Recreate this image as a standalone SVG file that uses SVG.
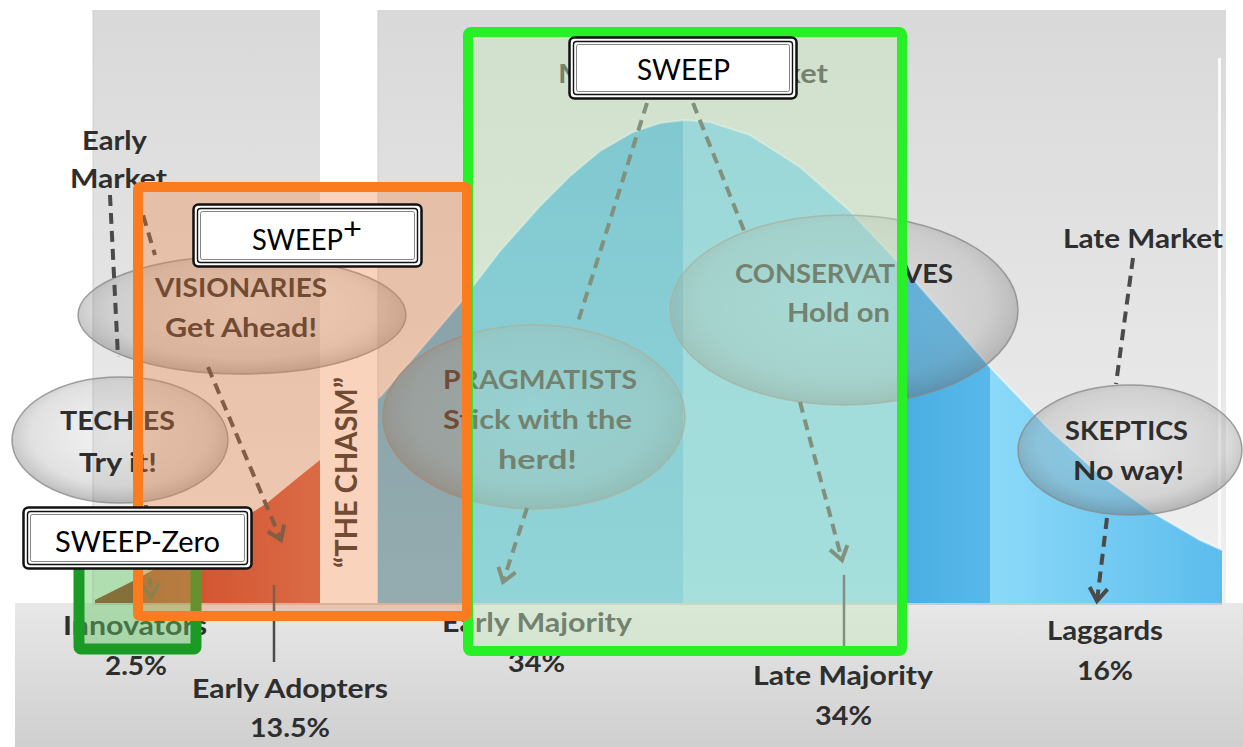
<svg xmlns="http://www.w3.org/2000/svg" width="1243" height="747" viewBox="0 0 1243 747">
<defs>
  <linearGradient id="panelG" x1="0" y1="0" x2="0" y2="1">
    <stop offset="0" stop-color="#d9d9d9"/>
    <stop offset="0.5" stop-color="#e4e4e4"/>
    <stop offset="1" stop-color="#f1f1f1"/>
  </linearGradient>
  <linearGradient id="floorG" x1="0" y1="0" x2="0" y2="1">
    <stop offset="0" stop-color="#e8e8e8"/>
    <stop offset="1" stop-color="#cfcfcf"/>
  </linearGradient>
  <linearGradient id="adoptG" x1="0" y1="0" x2="1" y2="0">
    <stop offset="0" stop-color="#bf2e1a"/>
    <stop offset="1" stop-color="#d0604a"/>
  </linearGradient>
  <linearGradient id="emG" x1="0" y1="0" x2="0" y2="1">
    <stop offset="0" stop-color="#45acdf"/>
    <stop offset="1" stop-color="#66c4ec"/>
  </linearGradient>
  <linearGradient id="lmG" x1="0" y1="0" x2="0" y2="1">
    <stop offset="0" stop-color="#78c8ee"/>
    <stop offset="1" stop-color="#8ad8f5"/>
  </linearGradient>
  <linearGradient id="lmOutG" x1="0" y1="0" x2="1" y2="0">
    <stop offset="0" stop-color="#4aaee2"/>
    <stop offset="1" stop-color="#58b8ea"/>
  </linearGradient>
  <linearGradient id="lagG" x1="0" y1="0" x2="1" y2="0">
    <stop offset="0" stop-color="#8cdaf9"/>
    <stop offset="1" stop-color="#5cbcec"/>
  </linearGradient>
  <radialGradient id="ellG" cx="0.5" cy="0.45" r="0.55">
    <stop offset="0" stop-color="#c8c8c8" stop-opacity="0.2"/>
    <stop offset="0.75" stop-color="#9a9a9a" stop-opacity="0.3"/>
    <stop offset="1" stop-color="#6a6a6a" stop-opacity="0.45"/>
  </radialGradient>
  <clipPath id="bell">
    <path d="M95,603 L95,600 L115,590 L135,580 L160,566 L200,549 L250,514 L267,503 L300,476 L320,460 L350,430 L380,397 L420,350 L460,303 L500,251 L540,206 L570,176 L600,151 L633,132 L660,123 L685,120 L710,122 L750,135 L800,167 L850,211 L900,264 L950,321 L990,367 L1050,430 L1100,475 L1150,511 L1200,540 L1222,550 L1222,603 Z"/>
  </clipPath>
  <marker id="chev" viewBox="-16 -12 20 24" markerWidth="20" markerHeight="24" refX="0" refY="0" orient="auto" markerUnits="userSpaceOnUse">
    <path d="M-13,-9 L0,0 L-13,9" fill="none" stroke="#4a4a4a" stroke-width="4"/>
  </marker>
</defs>
<style>
  .lbl{font-family:Lato,"Open Sans","Liberation Sans",sans-serif;font-weight:700;fill:#2e2e2e;font-size:26px}
  .ell{fill:url(#ellG);stroke:#8a8a8a;stroke-opacity:0.8;stroke-width:1.5}
  .dash{fill:none;stroke:#4a4a4a;stroke-width:4;stroke-dasharray:11 7}
  .solid{fill:none;stroke:#4a4a4a;stroke-width:2.5}
  .tag{font-family:Lato,"Open Sans","Liberation Sans",sans-serif;font-weight:400;fill:#000;font-size:28px}
  .tagbox{fill:#fff;stroke:#111;stroke-width:2.5}
  .tagin{fill:none;stroke:#111;stroke-width:1.4}
  .tagin2{fill:none;stroke:#666;stroke-width:0.8}
</style>

<g id="background">
  <rect x="0" y="0" width="1243" height="747" fill="#ffffff"/>
  <rect x="93" y="10" width="227" height="593" fill="url(#panelG)"/>
  <rect x="378" y="10" width="848" height="593" fill="url(#panelG)"/>
  <rect x="1218" y="58" width="3" height="545" fill="#fafafa"/>
  <line x1="93" y1="10" x2="93" y2="603" stroke="#cfcfcf" stroke-width="1"/>
  <line x1="378" y1="10" x2="378" y2="603" stroke="#cfcfcf" stroke-width="1"/>
  <rect x="15" y="603" width="1228" height="144" fill="url(#floorG)"/>
</g>

<g id="chart" clip-path="url(#bell)">
  <rect x="95" y="100" width="40" height="503" fill="#a0281a"/>
  <rect x="135" y="100" width="185" height="503" fill="url(#adoptG)"/>
  <rect x="378" y="100" width="305" height="503" fill="url(#emG)"/>
  <rect x="683" y="100" width="220" height="503" fill="url(#lmG)"/>
  <rect x="903" y="100" width="87" height="503" fill="url(#lmOutG)"/>
  <rect x="990" y="100" width="232" height="503" fill="url(#lagG)"/>
</g>
<g id="curve-edge" fill="none" stroke="#ffffff" stroke-opacity="0.5" stroke-width="2">
  <polyline points="380,397 420,350 460,303 500,251 540,206 570,176 600,151 633,132 660,123 685,120 710,122 750,135 800,167 850,211 900,264 950,321 990,367 1050,430 1100,475 1150,511 1200,540 1222,550"/>
</g>
<line x1="93" y1="604" x2="1222" y2="604" stroke="#a8a8a8" stroke-opacity="0.6" stroke-width="1.5"/>

<g id="node-early-market">
  <text class="lbl" x="82" y="150" font-size="25" textLength="65" lengthAdjust="spacingAndGlyphs">Early</text>
  <text class="lbl" x="70" y="188" font-size="25" textLength="97" lengthAdjust="spacingAndGlyphs">Market</text>
</g>
<g id="node-mainstream-market">
  <text class="lbl" x="558" y="83" textLength="270" lengthAdjust="spacingAndGlyphs">Mainstream Market</text>
</g>
<g id="node-late-market">
  <text class="lbl" x="1063" y="248" font-size="25" textLength="160" lengthAdjust="spacingAndGlyphs">Late Market</text>
</g>
<g id="node-visionaries">
  <ellipse class="ell" cx="242" cy="315" rx="164" ry="59"/>
  <text class="lbl" x="155" y="297" textLength="172" lengthAdjust="spacingAndGlyphs">VISIONARIES</text>
  <text class="lbl" x="165" y="337" textLength="152" lengthAdjust="spacingAndGlyphs">Get Ahead!</text>
</g>
<g id="node-techies">
  <ellipse class="ell" cx="120" cy="440" rx="108" ry="63"/>
  <text class="lbl" x="60" y="430" textLength="115" lengthAdjust="spacingAndGlyphs">TECHIES</text>
  <text class="lbl" x="79" y="472" textLength="78" lengthAdjust="spacingAndGlyphs">Try it!</text>
</g>
<g id="node-pragmatists">
  <ellipse class="ell" cx="534" cy="417" rx="151" ry="92"/>
  <text class="lbl" x="443" y="389" textLength="194" lengthAdjust="spacingAndGlyphs">PRAGMATISTS</text>
  <text class="lbl" x="443" y="429" textLength="189" lengthAdjust="spacingAndGlyphs">Stick with the</text>
  <text class="lbl" x="498" y="469" textLength="79" lengthAdjust="spacingAndGlyphs">herd!</text>
</g>
<g id="node-conservatives">
  <ellipse class="ell" cx="844" cy="310" rx="174" ry="95"/>
  <text class="lbl" x="735" y="283" textLength="218" lengthAdjust="spacingAndGlyphs">CONSERVATIVES</text>
  <text class="lbl" x="787" y="322" textLength="103" lengthAdjust="spacingAndGlyphs">Hold on</text>
</g>
<g id="node-skeptics">
  <ellipse class="ell" cx="1130" cy="450" rx="112" ry="65"/>
  <text class="lbl" x="1065" y="440" font-size="25" textLength="123" lengthAdjust="spacingAndGlyphs">SKEPTICS</text>
  <text class="lbl" x="1073" y="480" font-size="25" textLength="111" lengthAdjust="spacingAndGlyphs">No way!</text>
</g>
<g id="node-chasm">
  <text class="lbl" font-size="27" transform="translate(357,568) scale(1.15,1) rotate(-90)" x="0" y="0" textLength="191" lengthAdjust="spacingAndGlyphs">“THE CHASM”</text>
</g>
<g id="node-innovators">
  <text class="lbl" x="63" y="635" font-size="25" textLength="144" lengthAdjust="spacingAndGlyphs">Innovators</text>
  <text class="lbl" x="105" y="675" font-size="25" textLength="62" lengthAdjust="spacingAndGlyphs">2.5%</text>
</g>
<g id="node-early-adopters">
  <text class="lbl" x="192" y="698" font-size="24" textLength="196" lengthAdjust="spacingAndGlyphs">Early Adopters</text>
  <text class="lbl" x="250" y="737" font-size="24" textLength="80" lengthAdjust="spacingAndGlyphs">13.5%</text>
</g>
<g id="node-early-majority">
  <text class="lbl" x="442" y="632" font-size="27" textLength="190" lengthAdjust="spacingAndGlyphs">Early Majority</text>
  <text class="lbl" x="508" y="672" font-size="25" textLength="57" lengthAdjust="spacingAndGlyphs">34%</text>
</g>
<g id="node-late-majority">
  <text class="lbl" x="753" y="685" font-size="25" textLength="180" lengthAdjust="spacingAndGlyphs">Late Majority</text>
  <text class="lbl" x="815" y="725" font-size="25" textLength="57" lengthAdjust="spacingAndGlyphs">34%</text>
</g>
<g id="node-laggards">
  <text class="lbl" x="1047" y="640" font-size="25" textLength="116" lengthAdjust="spacingAndGlyphs">Laggards</text>
  <text class="lbl" x="1077" y="680" font-size="25" textLength="56" lengthAdjust="spacingAndGlyphs">16%</text>
</g>

<g id="connectors">
  <line class="dash" x1="110" y1="195" x2="118" y2="357"/>
  <line class="dash" x1="138" y1="198" x2="155" y2="255"/>
  <line class="dash" x1="208" y1="367" x2="281" y2="540" marker-end="url(#chev)"/>
  <line class="dash" x1="146" y1="505" x2="151" y2="597" marker-end="url(#chev)"/>
  <line class="dash" x1="647" y1="103" x2="577" y2="325"/>
  <line class="dash" x1="693" y1="103" x2="745" y2="233"/>
  <line class="dash" x1="527" y1="508" x2="503" y2="582" marker-end="url(#chev)"/>
  <line class="dash" x1="800" y1="402" x2="842" y2="560" marker-end="url(#chev)"/>
  <line class="dash" x1="1133" y1="258" x2="1116" y2="384"/>
  <line class="dash" x1="1107" y1="518" x2="1097" y2="601" marker-end="url(#chev)"/>
  <line class="solid" x1="274" y1="585" x2="274" y2="662"/>
  <line class="solid" x1="844" y1="575" x2="844" y2="650"/>
</g>

<g id="sweep-frame">
  <rect x="468" y="32" width="434" height="619" rx="3" fill="rgb(200,232,190)" fill-opacity="0.45" stroke="#27f027" stroke-width="10"/>
</g>
<g id="sweep-zero-frame">
  <rect x="79" y="562" width="117" height="87" rx="2" fill="rgb(100,200,100)" fill-opacity="0.45" stroke="#1c9a26" stroke-width="11"/>
</g>
<g id="sweep-plus-frame">
  <rect x="138" y="187" width="329" height="429" rx="2" fill="rgb(238,128,64)" fill-opacity="0.35" stroke="#fb7c1e" stroke-width="10"/>
</g>

<g id="tag-sweep">
  <rect class="tagbox" x="569.5" y="37.5" width="227" height="61" rx="5"/>
  <rect class="tagin" x="573.5" y="41.5" width="219" height="53" rx="3"/>
  <rect class="tagin2" x="576.5" y="44.5" width="213" height="47" rx="2"/>
  <text class="tag" x="637" y="80" textLength="93" lengthAdjust="spacingAndGlyphs">SWEEP</text>
</g>
<g id="tag-sweep-plus">
  <rect class="tagbox" x="193.5" y="204.5" width="228" height="62" rx="5"/>
  <rect class="tagin" x="197.5" y="208.5" width="220" height="54" rx="3"/>
  <rect class="tagin2" x="200.5" y="211.5" width="214" height="48" rx="2"/>
  <text class="tag" x="252" y="250" textLength="91" lengthAdjust="spacingAndGlyphs">SWEEP</text>
  <text class="tag" x="343" y="239" textLength="19" lengthAdjust="spacingAndGlyphs">+</text>
</g>
<g id="tag-sweep-zero">
  <rect class="tagbox" x="23.5" y="507.5" width="228" height="61" rx="5"/>
  <rect class="tagin" x="27.5" y="511.5" width="220" height="53" rx="3"/>
  <rect class="tagin2" x="30.5" y="514.5" width="214" height="47" rx="2"/>
  <text class="tag" x="55" y="552" textLength="165" lengthAdjust="spacingAndGlyphs">SWEEP-Zero</text>
</g>
</svg>
